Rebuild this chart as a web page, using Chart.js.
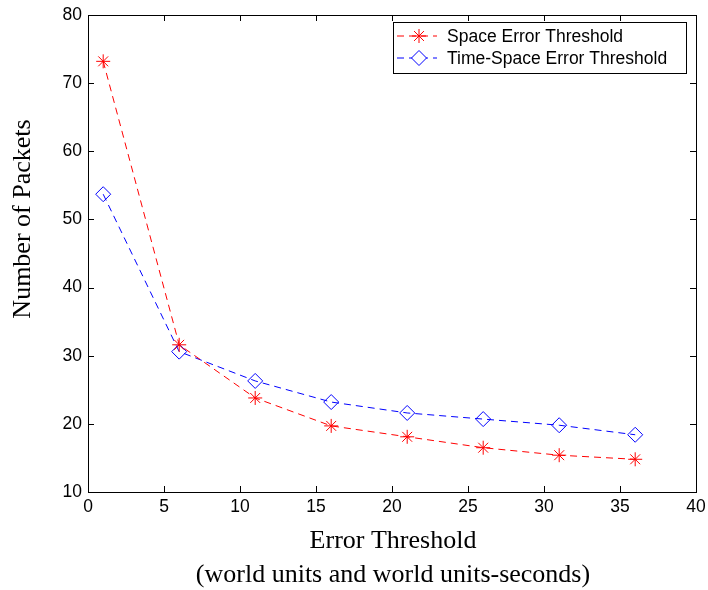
<!DOCTYPE html>
<html>
<head>
<meta charset="utf-8">
<script src="https://cdn.jsdelivr.net/npm/chart.js@4.4.1/dist/chart.umd.min.js"></script>
<style>
  body { margin: 0; background: #fff; }
  #wrap { width: 708px; height: 590px; }
</style>
</head>
<body>
<div id="wrap"><canvas id="grafico" width="708" height="590"></canvas></div>
<script>
// datos
const umbrales = [1, 6, 11, 16, 21, 26, 31, 36];
const errorEspacio = [73.2, 31.6, 23.8, 19.7, 18.1, 16.5, 15.4, 14.8];
const errorTiempoEspacio = [53.7, 30.6, 26.3, 23.2, 21.6, 20.7, 19.8, 18.4];
const nombresSeries = ['Space Error Threshold', 'Time-Space Error Threshold'];
const ticksX = [0, 5, 10, 15, 20, 25, 30, 35, 40];
const ticksY = [10, 20, 30, 40, 50, 60, 70, 80];

const fuenteTicks = '17.5px "Liberation Sans", Arial, sans-serif';
const fuenteTitulo = '26px "Liberation Serif", "Times New Roman", serif';

const puntos = (ys) => umbrales.map((x, i) => ({ x: x, y: ys[i] }));

// caja, marcas hacia dentro, titulos y leyenda estilo matlab
const estiloMatlab = {
  id: 'estiloMatlab',
  afterDraw(chart) {
    const ctx = chart.ctx;
    const a = chart.chartArea;
    const sx = chart.scales.x;
    const sy = chart.scales.y;
    ctx.save();
    ctx.strokeStyle = '#000';
    ctx.lineWidth = 1;
    ctx.strokeRect(Math.round(a.left) + 0.5, Math.round(a.top) + 0.5,
      Math.round(a.right - a.left), Math.round(a.bottom - a.top));
    const t = 6;
    ctx.beginPath();
    ticksX.forEach(v => {
      const px = Math.round(sx.getPixelForValue(v)) + 0.5;
      ctx.moveTo(px, a.bottom); ctx.lineTo(px, a.bottom - t);
      ctx.moveTo(px, a.top); ctx.lineTo(px, a.top + t);
    });
    ticksY.forEach(v => {
      const py = Math.round(sy.getPixelForValue(v)) + 0.5;
      ctx.moveTo(a.left, py); ctx.lineTo(a.left + t, py);
      ctx.moveTo(a.right, py); ctx.lineTo(a.right - t, py);
    });
    ctx.stroke();

    // titulos de ejes
    ctx.fillStyle = '#000';
    ctx.font = fuenteTitulo;
    ctx.textAlign = 'center';
    ctx.textBaseline = 'middle';
    const cx = (a.left + a.right) / 2;
    ctx.fillText('Error Threshold', cx + 1, 541);
    ctx.fillText('(world units and world units-seconds)', cx + 1, 575);
    ctx.save();
    ctx.translate(23, 219);
    ctx.rotate(-Math.PI / 2);
    ctx.fillText('Number of Packets', 0, 0);
    ctx.restore();

    // leyenda
    ctx.fillStyle = '#fff';
    ctx.fillRect(393.5, 22.5, 293, 51);
    ctx.strokeStyle = '#000';
    ctx.strokeRect(393.5, 22.5, 293, 51);
    ctx.font = fuenteTicks;
    ctx.textAlign = 'left';
    const filas = [36, 58];
    chart.data.datasets.forEach((ds, i) => {
      const y = filas[i];
      ctx.strokeStyle = ds.borderColor;
      ctx.lineWidth = 1;
      ctx.setLineDash([7, 5]);
      ctx.beginPath();
      ctx.moveTo(397, y); ctx.lineTo(437, y);
      ctx.stroke();
      ctx.setLineDash([]);
      ctx.fillStyle = '#fff';
      ctx.strokeStyle = ds.borderColor;
      Chart.helpers.drawPoint(ctx, {
        pointStyle: ds.pointStyle, radius: ds.pointRadius, rotation: 0, borderWidth: 1
      }, 419, y);
      ctx.fillStyle = '#000';
      ctx.fillText(nombresSeries[i], 447, y + 1);
    });
    ctx.restore();
  }
};

new Chart(document.getElementById('grafico'), {
  type: 'line',
  data: {
    datasets: [{
      label: nombresSeries[0],
      data: puntos(errorEspacio),
      borderColor: '#ff0000',
      backgroundColor: '#ff0000',
      borderWidth: 1,
      borderDash: [7, 5],
      pointStyle: 'star',
      pointRadius: 7,
      pointBorderWidth: 1,
      tension: 0
    }, {
      label: nombresSeries[1],
      data: puntos(errorTiempoEspacio),
      borderColor: '#0000ff',
      backgroundColor: 'rgba(0,0,0,0)',
      borderWidth: 1,
      borderDash: [7, 5],
      pointStyle: 'rectRot',
      pointRadius: 7.5,
      pointBorderWidth: 1,
      tension: 0
    }]
  },
  options: {
    responsive: false,
    animation: false,
    layout: { padding: { top: 15, right: 12, left: 0, bottom: 0 } },
    plugins: { legend: { display: false }, tooltip: { enabled: false } },
    scales: {
      x: {
        type: 'linear',
        min: 0, max: 40,
        afterFit: (s) => { s.height = 98; s.paddingLeft = 0; s.paddingRight = 0; },
        afterBuildTicks: (s) => { s.ticks = ticksX.map(v => ({ value: v })); },
        grid: { display: false, drawTicks: false },
        border: { display: false },
        ticks: { color: '#000', font: { family: '"Liberation Sans", Arial, sans-serif', size: 17.5 }, padding: 5, maxRotation: 0 }
      },
      y: {
        min: 10, max: 80,
        afterFit: (s) => { s.width = 88; s.paddingTop = 0; s.paddingBottom = 0; },
        afterBuildTicks: (s) => { s.ticks = ticksY.map(v => ({ value: v })); },
        grid: { display: false, drawTicks: false },
        border: { display: false },
        ticks: { color: '#000', font: { family: '"Liberation Sans", Arial, sans-serif', size: 17.5 }, padding: 6 }
      }
    }
  },
  plugins: [estiloMatlab]
});
</script>
</body>
</html>
